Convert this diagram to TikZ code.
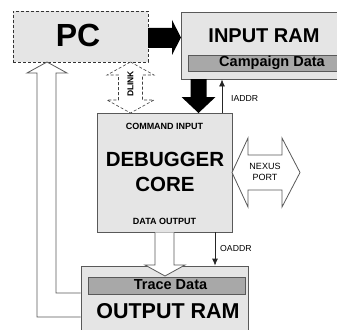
\documentclass[tikz,border=0pt]{standalone}
\usepackage{fontspec}
\setmainfont{Liberation Sans}
\usetikzlibrary{arrows.meta}
\definecolor{boxfill}{gray}{0.9}
\definecolor{barfill}{gray}{0.66}
\definecolor{edgegray}{gray}{0.35}
\tikzset{
  box/.style={draw=edgegray,fill=boxfill,line width=0.8pt,inner sep=0pt},
  bar/.style={draw=edgegray,fill=barfill,line width=0.8pt,inner sep=0pt},
  hollow/.style={draw=edgegray,fill=white,line width=0.8pt,line join=miter},
  txt/.style={inner sep=0pt,anchor=base},
  sig/.style={draw=black!85,line width=0.8pt,-{Latex[length=7pt,width=6pt]}},
}
\begin{document}
\begin{tikzpicture}[x=1pt,y=-1pt]
\clip (0,0) rectangle (337,329);
\fill[white] (0,0) rectangle (337,329);
% boxes
\node[box,draw=black!80,densely dashed,line width=0.6pt,minimum width=135pt,minimum height=51pt] (pc) at (80.5,36.5) {};
\node[box,minimum width=168pt,minimum height=67pt] (inram) at (265,45.5) {};
\node[bar,minimum width=157pt,minimum height=16pt] (campaign) at (266.5,63) {};
\node[box,minimum width=135pt,minimum height=119pt] (core) at (164.5,172.5) {};
\node[box,minimum width=167pt,minimum height=79pt] (outram) at (164.5,305.5) {};
\node[bar,minimum width=157pt,minimum height=17pt] (trace) at (166.5,285.5) {};
% texts
\node[txt,font=\fontsize{32}{32}\selectfont\bfseries] (pclabel) at (78,46.5) {PC};
\node[txt,font=\fontsize{20}{20}\selectfont\bfseries] (inlabel) at (264,42) {INPUT RAM};
\node[txt,font=\fontsize{14.5}{14.5}\selectfont\bfseries] (camplabel) at (272,66.5) {Campaign Data};
\node[txt,font=\fontsize{9}{9}\selectfont\bfseries] (cmdlabel) at (164.5,129) {COMMAND INPUT};
\node[txt,font=\fontsize{20.5}{20.5}\selectfont\bfseries] (dbglabel) at (165,166) {DEBUGGER};
\node[txt,font=\fontsize{20.5}{20.5}\selectfont\bfseries] (corelabel) at (165,191) {CORE};
\node[txt,font=\fontsize{9}{9}\selectfont\bfseries] (datalabel) at (164.5,224) {DATA OUTPUT};
\node[txt,font=\fontsize{14.5}{14.5}\selectfont\bfseries] (tracelabel) at (170.5,289) {Trace Data};
\node[txt,font=\fontsize{21.5}{21.5}\selectfont\bfseries] (outlabel) at (168,318) {OUTPUT RAM};
% data paths
\fill (148,28) -- (172,28) -- (172,20) -- (181,37.5) -- (172,55) -- (172,48) -- (148,48) -- cycle;
\fill (190.5,79) -- (206.5,79) -- (206.5,97) -- (215.5,97) -- (198.5,113) -- (181.5,97) -- (190.5,97) -- cycle;
\draw[hollow,draw=black!75,densely dashed,line width=0.6pt] (130.5,62) -- (154,75) -- (142.5,75) -- (142.5,100) -- (154,100)
  -- (130.5,113) -- (107,100) -- (118.5,100) -- (118.5,75) -- (107,75) -- cycle;
\node[inner sep=0pt,rotate=90,font=\fontsize{8.5}{8.5}\selectfont\bfseries] (dlink) at (130.5,84) {DLINK};
\draw[hollow] (232,172.5) -- (248,138) -- (248,155) -- (282,155) -- (282,138) -- (300,172.5)
  -- (282,207) -- (282,190) -- (248,190) -- (248,207) -- cycle;
\node[txt,font=\fontsize{9}{9}\selectfont] (nexus) at (265,169.5) {NEXUS};
\node[txt,font=\fontsize{9}{9}\selectfont] (port) at (265,180.5) {PORT};
\fill[white] (155,232.5) -- (155,265) -- (145,265) -- (165,276) -- (185,265) -- (174,265) -- (174,232.5) -- cycle;
\draw[hollow] (155,232.5) -- (155,265) -- (145,265) -- (165,276) -- (185,265) -- (174,265) -- (174,232.5);
\draw[hollow] (outram.west |- 0,317) -- (37,317) -- (37,73) -- (27,73) -- (47,62) -- (67,73) -- (56,73)
  -- (56,293) -- (outram.west |- 0,293);
% address lines
\draw[sig] (core.north -| 222,0) -- (inram.south -| 222,0);
\node[txt,anchor=base west,font=\fontsize{8.7}{8.7}\selectfont] (iaddr) at (231,101) {IADDR};
\draw[sig] (core.south -| 215,0) -- (outram.north -| 215,0);
\node[txt,anchor=base west,font=\fontsize{8.7}{8.7}\selectfont] (oaddr) at (220,251) {OADDR};
\end{tikzpicture}
\end{document}
